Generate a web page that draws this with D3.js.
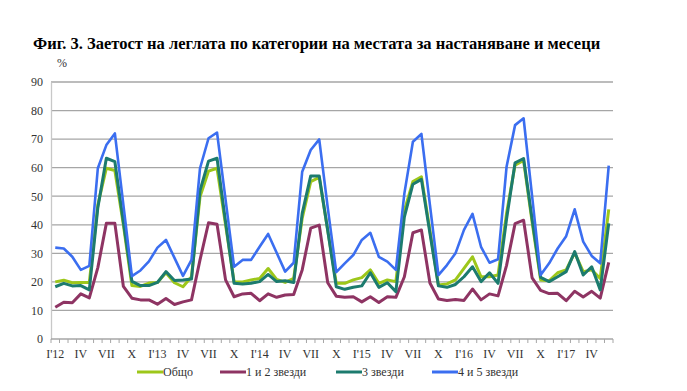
<!DOCTYPE html>
<html>
<head>
<meta charset="utf-8">
<script src="https://cdn.jsdelivr.net/npm/d3@7"></script>
<style>
html,body{margin:0;padding:0;background:#fff;}
svg{display:block;}
</style>
</head>
<body>
<svg id="chart" width="687" height="391"></svg>
<script>
const years = ["12","13","14","15","16","17"];
const monthLabels = ["I","IV","VII","X"];

const total = [
  20.0,20.6,19.7,19.8,19.8,47.0,59.8,59.0,40.0,18.7,18.4,19.6,
  19.8,23.2,19.7,18.3,21.8,49.8,58.8,59.8,40.0,20.0,20.0,20.7,
  21.2,24.7,20.9,19.8,21.2,42.3,55.1,56.6,38.0,19.5,19.5,20.7,
  21.5,24.2,19.5,20.7,20.1,45.0,55.1,56.8,38.0,18.9,19.3,20.7,
  24.7,28.8,21.8,21.8,22.4,44.0,60.9,62.5,41.0,20.7,20.4,23.2,
  24.2,30.2,23.6,24.2,21.2,45.4
];
const stars12 = [
  11.1,12.9,12.7,15.8,14.4,25.0,40.5,40.5,18.4,14.3,13.7,13.7,
  12.2,14.2,12.1,13.0,13.7,27.7,40.7,40.2,20.7,14.8,15.8,16.0,
  13.4,15.8,14.6,15.4,15.6,24.2,38.8,39.9,19.7,15.0,14.6,14.8,
  13.0,14.8,12.8,14.8,14.6,21.8,37.2,38.2,19.6,14.0,13.5,13.8,
  13.5,17.5,13.7,15.8,15.1,25.8,40.4,41.6,21.4,17.0,15.9,16.0,
  13.4,16.7,14.7,16.7,14.3,26.8
];
const stars3 = [
  18.3,19.5,18.6,18.7,17.2,46.0,63.3,62.1,41.0,20.2,18.7,18.7,
  19.8,23.6,20.5,20.7,21.0,52.0,62.3,63.3,41.0,19.5,19.3,19.5,
  20.1,22.6,20.1,20.4,19.8,44.0,57.1,57.1,38.0,18.3,17.4,18.1,
  18.6,23.2,18.1,19.7,16.6,42.8,54.2,55.9,37.0,18.6,18.1,19.1,
  21.8,25.3,20.1,23.2,19.5,42.0,61.7,63.2,42.0,21.6,20.1,21.8,
  23.6,30.6,22.4,25.3,17.2,40.5
];
const stars45 = [
  32.0,31.7,28.8,24.2,25.6,59.8,67.9,72.0,47.0,22.0,24.0,27.2,
  32.0,34.7,28.4,22.1,27.7,59.8,70.3,72.3,48.8,25.3,27.7,27.7,
  32.3,36.8,30.2,23.6,26.7,58.6,66.2,69.9,46.0,23.4,26.5,29.4,
  34.7,37.2,28.8,27.1,24.2,51.0,69.1,71.8,47.0,22.4,25.9,30.0,
  38.2,43.8,32.3,26.7,27.9,60.3,74.9,77.3,50.0,22.4,26.5,31.7,
  36.0,45.4,34.1,29.1,26.5,60.7
];
const seriesNames = ["Общо","1 и 2 звезди","3 звезди","4 и 5 звезди"];
const seriesColors = ["#9dc71a","#8e3463","#1c7b6e","#3b6ef0"];
const yTicks = [0,10,20,30,40,50,60,70,80,90];
const title = "Фиг. 3. Заетост на леглата по категории на местата за настаняване и месеци";

const series = [total, stars12, stars3, stars45];
const n = total.length;
const cats = d3.range(n);
const catLabel = i => {
  const m = i % 12;
  if (m % 3 !== 0) return "";
  if (m === 0) return "I'" + years[Math.floor(i/12)];
  return monthLabels[m/3];
};

const svg = d3.select("#chart");
const L = 51, R = 613, T = 82, B = 339;
const x = d3.scaleBand().domain(cats).range([L, R]);
const y = d3.scaleLinear().domain([0, 90]).range([B, T]);
const cx = i => x(i) + x.bandwidth()/2;

// title
svg.append("text").attr("x", 33).attr("y", 49)
  .attr("font-family", "'Liberation Serif','Times New Roman',serif")
  .attr("font-weight", "bold").attr("font-size", 16.5).attr("fill", "#000")
  .text(title);
svg.append("text").attr("x", 57).attr("y", 67)
  .attr("font-family", "'Liberation Serif',serif").attr("font-size", 12).attr("fill", "#333")
  .text("%");

// grid
const grid = svg.append("g");
grid.selectAll("line").data(yTicks.filter(d => d > 0)).join("line")
  .attr("x1", L).attr("x2", R).attr("y1", d => y(d)).attr("y2", d => y(d))
  .attr("stroke", "#a6a6a6").attr("stroke-width", 1.3);

// y axis
const yAxis = svg.append("g").attr("transform", `translate(${L},0)`)
  .call(d3.axisLeft(y).tickValues(yTicks).tickSize(0).tickPadding(8));
yAxis.select(".domain").attr("stroke", "#c8c8c8").attr("stroke-width", 1.3);
yAxis.selectAll("text").attr("font-family", "'Liberation Serif',serif")
  .attr("font-size", 12).attr("fill", "#333");

// x axis
const xAxis = svg.append("g").attr("transform", `translate(0,${B})`);
xAxis.append("line").attr("x1", L).attr("x2", R).attr("y1", 0).attr("y2", 0)
  .attr("stroke", "#a6a6a6").attr("stroke-width", 1.3);
xAxis.selectAll("line.tick").data(d3.range(n + 1)).join("line").attr("class", "tick")
  .attr("x1", i => L + i * x.step()).attr("x2", i => L + i * x.step())
  .attr("y1", 0).attr("y2", 4).attr("stroke", "#a6a6a6").attr("stroke-width", 1);
xAxis.selectAll("text").data(cats.filter(i => catLabel(i) !== "")).join("text")
  .attr("x", i => cx(i)).attr("y", 19).attr("text-anchor", "middle")
  .attr("font-family", "'Liberation Serif',serif").attr("font-size", 12).attr("fill", "#333")
  .text(i => catLabel(i));

// lines
const line = d3.line().x((d, i) => cx(i)).y(d => y(d));
svg.append("g").selectAll("path").data(series).join("path")
  .attr("d", d => line(d)).attr("fill", "none")
  .attr("stroke", (d, i) => seriesColors[i])
  .attr("stroke-width", (d, i) => i === 3 ? 2.6 : 3)
  .attr("stroke-linejoin", "round");

// legend
const legX = [137, 220, 336, 432];
const legY = 372;
const leg = svg.append("g");
seriesNames.forEach((name, i) => {
  leg.append("line").attr("x1", legX[i]).attr("x2", legX[i] + 26)
    .attr("y1", legY).attr("y2", legY)
    .attr("stroke", seriesColors[i]).attr("stroke-width", 3);
  leg.append("text").attr("x", legX[i] + 26).attr("y", legY + 4)
    .attr("font-family", "'Liberation Serif',serif").attr("font-size", 12).attr("fill", "#333")
    .text(name);
});
</script>
</body>
</html>
